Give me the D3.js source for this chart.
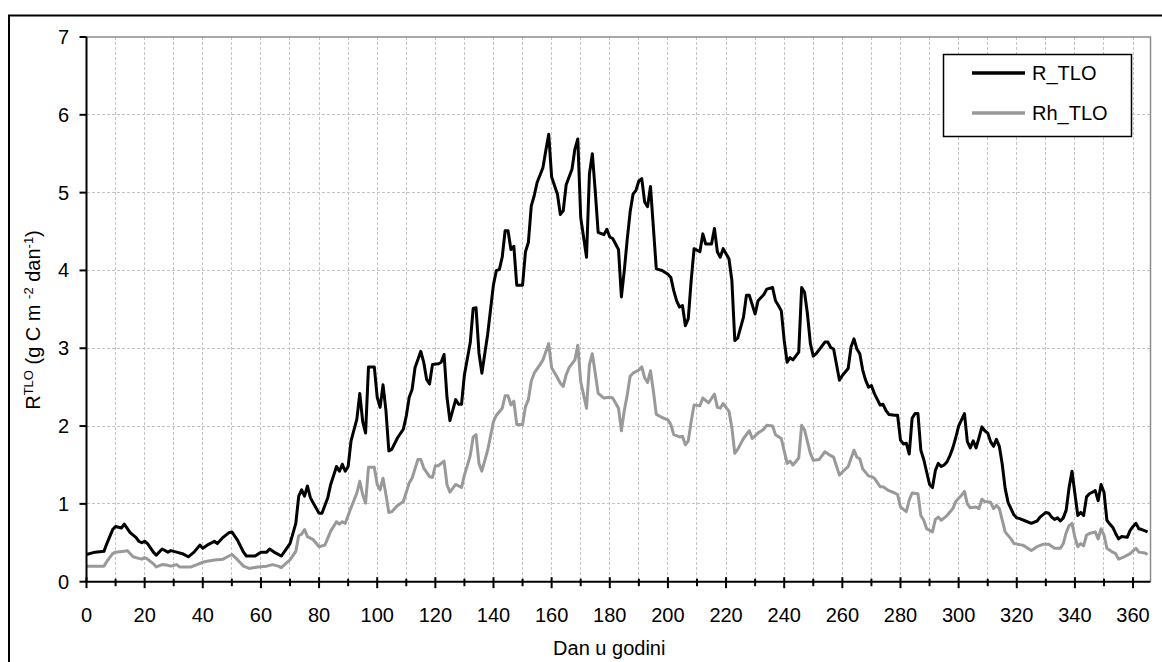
<!DOCTYPE html>
<html>
<head>
<meta charset="utf-8">
<script src="https://cdn.jsdelivr.net/npm/d3@7"></script>
<style>
  html, body { margin: 0; padding: 0; background: #fff; }
  svg { display: block; font-family: "Liberation Sans", Arial, sans-serif; }
</style>
</head>
<body>
<svg id="chart" width="1162" height="662"></svg>
<script>
// Daily soil respiration (R_TLO) and heterotrophic soil respiration (Rh_TLO)
const rDay = [0,2,3,6,7,9,10,12,13,15,17,18,19,20,21,23,24,26,28,29,31,33,35,37,39,40,42,44,45,47,49,50,52,54,55,58,60,62,63,65,67,70,72,73,74,75,76,77,78,80,81,83,84,86,87,88,89,90,91,93,94,95,96,97,99,100,101,102,103,104,105,107,109,110,111,112,113,115,116,117,118,119,121,122,123,124,125,127,128,129,130,132,133,134,135,136,138,140,141,142,143,144,145,146,147,148,150,151,152,153,154,155,157,158,159,160,162,163,164,165,167,168,169,170,172,173,174,175,176,178,179,180,181,183,184,185,186,187,188,189,190,191,192,193,194,195,196,198,200,201,202,203,204,205,206,207,208,209,211,212,213,215,216,217,218,219,221,222,223,224,226,227,228,230,231,233,234,236,237,238,239,240,241,242,243,245,246,247,248,249,250,251,252,254,255,256,257,259,260,262,263,264,265,266,267,268,269,270,271,273,274,275,276,278,279,280,281,282,283,284,285,286,287,288,289,290,291,292,293,294,295,296,297,298,299,300,301,302,303,304,305,306,307,308,309,310,311,312,313,314,315,316,317,318,319,320,321,323,325,327,328,330,331,332,333,334,335,336,337,338,339,340,341,342,343,344,345,346,347,348,349,350,351,352,353,354,355,356,358,359,360,361,362,363,365];
const rVal = [0.35,0.37,0.38,0.39,0.49,0.67,0.71,0.69,0.74,0.63,0.57,0.52,0.50,0.52,0.49,0.38,0.34,0.42,0.38,0.40,0.38,0.36,0.32,0.38,0.47,0.43,0.48,0.52,0.49,0.57,0.63,0.64,0.53,0.38,0.33,0.33,0.38,0.38,0.42,0.37,0.33,0.49,0.75,1.10,1.18,1.10,1.23,1.08,1.01,0.88,0.88,1.08,1.25,1.48,1.42,1.51,1.42,1.48,1.81,2.09,2.42,2.06,1.91,2.76,2.76,2.37,2.24,2.53,2.20,1.68,1.70,1.85,1.96,2.13,2.37,2.47,2.75,2.96,2.82,2.60,2.54,2.79,2.80,2.82,2.92,2.37,2.07,2.34,2.28,2.28,2.66,3.07,3.51,3.52,2.94,2.68,3.18,3.82,4.00,4.01,4.17,4.51,4.51,4.27,4.31,3.81,3.81,4.24,4.36,4.83,4.96,5.13,5.32,5.54,5.75,5.20,4.98,4.72,4.77,5.10,5.30,5.56,5.69,4.68,4.17,5.24,5.50,5.02,4.49,4.46,4.53,4.43,4.41,4.27,3.66,4.00,4.40,4.75,4.98,5.03,5.15,5.18,4.88,4.82,5.08,4.55,4.02,4.00,3.95,3.91,3.74,3.61,3.53,3.55,3.29,3.38,3.87,4.28,4.24,4.47,4.34,4.34,4.54,4.24,4.17,4.28,4.15,3.87,3.10,3.13,3.40,3.68,3.68,3.44,3.61,3.69,3.76,3.78,3.61,3.55,3.48,3.10,2.82,2.88,2.85,2.95,3.78,3.72,3.44,3.06,2.90,2.93,2.98,3.08,3.08,3.01,2.99,2.59,2.65,2.74,3.02,3.12,2.99,2.93,2.72,2.59,2.50,2.52,2.42,2.27,2.28,2.20,2.15,2.14,2.14,1.82,1.77,1.78,1.64,2.10,2.16,2.16,1.69,1.57,1.41,1.25,1.21,1.43,1.52,1.48,1.50,1.54,1.62,1.72,1.85,2.00,2.08,2.16,1.80,1.72,1.81,1.72,1.85,1.99,1.94,1.91,1.80,1.74,1.83,1.74,1.51,1.20,1.02,0.94,0.86,0.82,0.81,0.78,0.75,0.78,0.83,0.89,0.88,0.83,0.80,0.82,0.78,0.82,0.92,1.21,1.42,1.13,0.85,0.89,0.85,1.09,1.13,1.15,1.17,1.04,1.25,1.15,0.79,0.74,0.70,0.62,0.55,0.58,0.57,0.66,0.71,0.75,0.68,0.67,0.64];

const rhDay = [0,6,7,9,10,13,14,16,18,19,20,21,23,24,26,28,29,31,32,36,38,40,41,44,47,49,50,52,54,56,59,62,63,64,66,67,70,72,73,74,75,76,78,80,82,84,86,87,88,89,91,93,94,95,96,97,99,100,101,102,103,104,105,107,109,110,111,112,113,114,115,116,118,119,120,121,123,124,125,127,129,130,132,133,134,135,136,138,140,141,143,144,145,146,147,148,150,151,152,153,154,156,157,159,160,162,163,164,165,166,168,169,170,172,173,174,175,176,178,180,181,183,184,185,186,187,188,190,191,192,193,194,195,196,198,200,201,202,204,205,206,207,208,209,211,212,214,216,217,218,219,221,222,223,224,226,228,229,231,233,234,236,237,239,241,242,243,245,246,247,248,249,250,252,254,256,257,259,260,262,264,265,266,267,269,270,271,273,274,276,278,279,280,281,282,283,284,286,287,288,289,291,292,293,294,296,298,299,301,302,303,304,306,307,308,309,311,312,313,314,315,316,318,319,322,323,325,327,329,331,333,335,336,337,338,339,340,341,342,343,344,345,347,348,349,350,351,353,354,355,357,359,361,362,364,365];
const rhVal = [0.20,0.20,0.26,0.36,0.38,0.39,0.40,0.32,0.30,0.29,0.31,0.29,0.23,0.19,0.22,0.21,0.20,0.22,0.19,0.19,0.22,0.25,0.26,0.28,0.29,0.33,0.35,0.28,0.20,0.17,0.19,0.20,0.21,0.22,0.20,0.18,0.28,0.39,0.59,0.61,0.67,0.58,0.54,0.45,0.47,0.65,0.77,0.74,0.77,0.75,0.95,1.14,1.29,1.12,1.01,1.47,1.47,1.25,1.18,1.33,1.12,0.89,0.90,0.98,1.03,1.15,1.27,1.33,1.45,1.57,1.57,1.46,1.35,1.34,1.49,1.49,1.55,1.25,1.15,1.25,1.21,1.37,1.62,1.86,1.89,1.52,1.42,1.69,2.06,2.14,2.23,2.39,2.39,2.27,2.32,2.02,2.02,2.25,2.34,2.58,2.68,2.79,2.85,3.06,2.75,2.62,2.55,2.51,2.66,2.75,2.85,3.04,2.57,2.23,2.79,2.93,2.68,2.42,2.36,2.37,2.36,2.23,1.94,2.20,2.40,2.64,2.68,2.72,2.76,2.62,2.56,2.71,2.45,2.15,2.11,2.08,2.02,1.89,1.86,1.87,1.76,1.81,2.06,2.27,2.26,2.36,2.30,2.41,2.24,2.23,2.29,2.19,1.98,1.65,1.70,1.84,1.94,1.84,1.91,1.96,2.01,2.00,1.89,1.84,1.52,1.55,1.50,1.59,2.01,1.95,1.80,1.65,1.56,1.57,1.67,1.62,1.60,1.37,1.41,1.48,1.69,1.60,1.58,1.45,1.36,1.35,1.33,1.22,1.22,1.17,1.14,1.12,0.96,0.93,0.90,1.05,1.14,1.13,0.85,0.79,0.68,0.64,0.80,0.83,0.79,0.85,0.94,1.03,1.11,1.16,1.00,0.95,0.96,0.94,1.06,1.03,1.02,0.94,0.98,0.94,0.79,0.64,0.55,0.49,0.47,0.45,0.40,0.45,0.48,0.48,0.43,0.43,0.49,0.63,0.72,0.75,0.57,0.45,0.49,0.46,0.60,0.62,0.64,0.55,0.68,0.60,0.43,0.38,0.36,0.29,0.32,0.36,0.43,0.38,0.37,0.35];

const xTicks = d3.range(0, 361, 10);
const xLabels = d3.range(0, 361, 20);
const yTicks = [0, 1, 2, 3, 4, 5, 6, 7];
const seriesNames = ["R_TLO", "Rh_TLO"];

const svg = d3.select("#chart");
const W = 1162, H = 662;
const plot = { left: 86.5, top: 37, right: 1150.5, bottom: 581.7 };

const x = d3.scaleLinear().domain([0, 366]).range([plot.left, plot.right]);
const y = d3.scaleLinear().domain([0, 7]).range([plot.bottom, plot.top]);

// outer chart frame
svg.append("rect")
  .attr("x", 9).attr("y", 15.5)
  .attr("width", 1200).attr("height", 700)
  .attr("fill", "none").attr("stroke", "#000").attr("stroke-width", 2);

// gridlines
const grid = svg.append("g").attr("stroke", "#c4c4c4").attr("stroke-width", 1)
  .attr("stroke-dasharray", "3,2").attr("shape-rendering", "crispEdges");
grid.selectAll("line.v").data(xTicks.filter(d => d > 0)).join("line")
  .attr("x1", d => x(d)).attr("x2", d => x(d))
  .attr("y1", plot.top).attr("y2", plot.bottom);
grid.selectAll("line.h").data(yTicks.filter(d => d > 0 && d < 7)).join("line")
  .attr("x1", plot.left).attr("x2", plot.right)
  .attr("y1", d => y(d)).attr("y2", d => y(d));

// plot area border (top and right)
svg.append("path")
  .attr("d", `M${plot.left},${plot.top}H${plot.right}V${plot.bottom}`)
  .attr("fill", "none").attr("stroke", "#8c8c8c").attr("stroke-width", 1.5);

// series lines
const line = d3.line().x(d => x(d[0])).y(d => y(d[1]));
const rhData = rhDay.map((d, i) => [d, rhVal[i]]);
const rData = rDay.map((d, i) => [d, rVal[i]]);

svg.append("path").datum(rhData)
  .attr("d", line).attr("fill", "none")
  .attr("stroke", "#999999").attr("stroke-width", 3)
  .attr("stroke-linejoin", "round");
svg.append("path").datum(rData)
  .attr("d", line).attr("fill", "none")
  .attr("stroke", "#000").attr("stroke-width", 3)
  .attr("stroke-linejoin", "round");

// axes
const axes = svg.append("g").attr("stroke", "#000");
axes.append("line").attr("x1", plot.left).attr("x2", plot.left)
  .attr("y1", plot.top).attr("y2", plot.bottom + 1).attr("stroke-width", 2);
axes.append("line").attr("x1", plot.left - 1).attr("x2", plot.right)
  .attr("y1", plot.bottom).attr("y2", plot.bottom).attr("stroke-width", 2);

axes.selectAll("line.xt").data(xTicks).join("line")
  .attr("x1", d => x(d)).attr("x2", d => x(d))
  .attr("y1", d => d % 20 === 0 ? plot.bottom - 4.5 : plot.bottom - 3)
  .attr("y2", d => d % 20 === 0 ? plot.bottom + 6.5 : plot.bottom + 4.5)
  .attr("stroke-width", 2);
axes.selectAll("line.yt").data(yTicks).join("line")
  .attr("x1", plot.left - 7).attr("x2", plot.left)
  .attr("y1", d => y(d)).attr("y2", d => y(d))
  .attr("stroke-width", 2);

// tick labels
svg.append("g").selectAll("text").data(xLabels).join("text")
  .attr("x", d => x(d)).attr("y", 622)
  .attr("text-anchor", "middle").attr("font-size", 20).attr("fill", "#000")
  .text(d => d);
svg.append("g").selectAll("text").data(yTicks).join("text")
  .attr("x", 69).attr("y", d => y(d) + 7)
  .attr("text-anchor", "end").attr("font-size", 20).attr("fill", "#000")
  .text(d => d);

// axis titles
svg.append("text")
  .attr("x", (plot.left + 1132) / 2).attr("y", 655)
  .attr("text-anchor", "middle").attr("font-size", 20)
  .text("Dan u godini");

const yt = svg.append("text")
  .attr("transform", "translate(40,320) rotate(-90)")
  .attr("text-anchor", "middle").attr("font-size", 20);
yt.append("tspan").text("R");
yt.append("tspan").attr("font-size", 13).attr("baseline-shift", "super").text("TLO");
yt.append("tspan").text(" (g C m ");
yt.append("tspan").attr("font-size", 13).attr("baseline-shift", "super").text("-2");
yt.append("tspan").text(" dan");
yt.append("tspan").attr("font-size", 13).attr("baseline-shift", "super").text("-1");
yt.append("tspan").text(")");

// legend
const lg = svg.append("g");
lg.append("rect").attr("x", 943.5).attr("y", 54.5).attr("width", 188).attr("height", 82)
  .attr("fill", "#fff").attr("stroke", "#000").attr("stroke-width", 1.5);
const legendColors = ["#000", "#999999"];
seriesNames.forEach((name, i) => {
  const ly = 73 + i * 40;
  lg.append("line").attr("x1", 972).attr("x2", 1025).attr("y1", ly).attr("y2", ly)
    .attr("stroke", legendColors[i]).attr("stroke-width", 3.5);
  lg.append("text").attr("x", 1032).attr("y", ly + 7)
    .attr("font-size", 20).text(name);
});
</script>
</body>
</html>
